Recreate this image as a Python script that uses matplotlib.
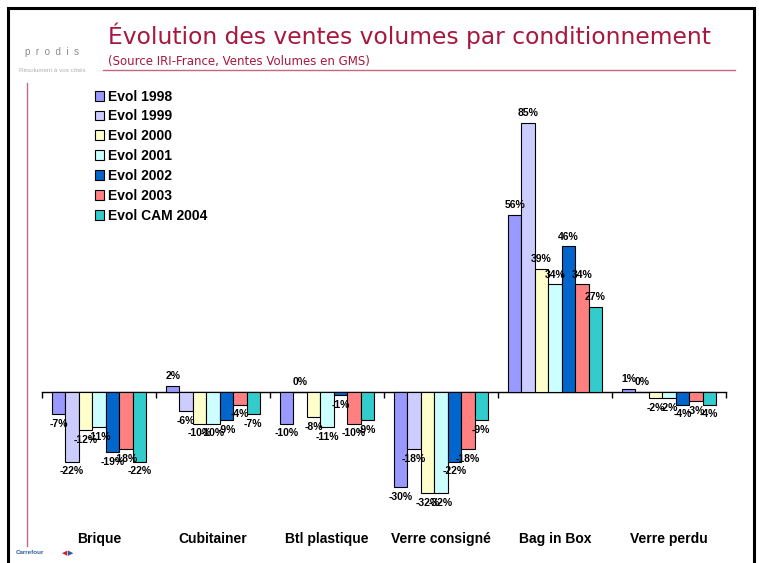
"""Evolution des ventes volumes par conditionnement (IRI-France, GMS)."""

import matplotlib

matplotlib.use("Agg")
import matplotlib.pyplot as plt
import numpy as np
from matplotlib.lines import Line2D

W, H, DPI = 759, 563, 100

categories = ["Brique", "Cubitainer", "Btl plastique", "Verre consigné",
              "Bag in Box", "Verre perdu"]
series_names = ["Evol 1998", "Evol 1999", "Evol 2000", "Evol 2001",
                "Evol 2002", "Evol 2003", "Evol CAM 2004"]
evol_1998 = [-7, 2, -10, -30, 56, 1]
evol_1999 = [-22, -6, 0, -18, 85, 0]
evol_2000 = [-12, -10, -8, -32, 39, -2]
evol_2001 = [-11, -10, -11, -32, 34, -2]
evol_2002 = [-19, -9, -1, -22, 46, -4]
evol_2003 = [-18, -4, -10, -18, 34, -3]
evol_cam_2004 = [-22, -7, -9, -9, 27, -4]
series = [evol_1998, evol_1999, evol_2000, evol_2001,
          evol_2002, evol_2003, evol_cam_2004]
colors = ["#9999FF", "#CCCCFF", "#FFFFCC", "#CCFFFF",
          "#0066CC", "#FF8080", "#33CCCC"]

TITLE_RED = "#A8173F"
LINE_RED = "#C4687F"

plt.rcParams["font.family"] = ["Liberation Sans", "DejaVu Sans"]

fig = plt.figure(figsize=(W / DPI, H / DPI), dpi=DPI)


def fx(px):
    return px / W


def fy(py):
    return 1 - py / H


# axes placed in pixel coordinates: x 42..726, y 100..500, zero at y=392
ax_left, ax_right, ax_top, ax_bot = 42, 726, 100, 500
zero_y, px_per_unit = 392, 3.165
ax = fig.add_axes([fx(ax_left), fy(ax_bot), fx(ax_right - ax_left),
                   (ax_bot - ax_top) / H])
ax.set_xlim(-0.5, len(categories) - 0.5)
ax.set_ylim(-(ax_bot - zero_y) / px_per_unit, (zero_y - ax_top) / px_per_unit)

x = np.arange(len(categories))
n = len(series)
bar_w = 0.825 / n
handles = []
for i, (vals, col, name) in enumerate(zip(series, colors, series_names)):
    pos = x - 0.825 / 2 + bar_w * (i + 0.5)
    bars = ax.bar(pos, vals, bar_w, color=col, edgecolor="black",
                  linewidth=0.8, label=name, zorder=2)
    handles.append(bars)
    for xp, v in zip(pos, vals):
        off = 7 if v >= 0 else -7
        ax.annotate(f"{v}%", (xp, v), xytext=(0, off), textcoords="offset points",
                    ha="center", va="center", fontsize=7.5, fontweight="bold",
                    zorder=3)

for s in ["top", "right", "left"]:
    ax.spines[s].set_visible(False)
ax.spines["bottom"].set_position(("data", 0))
ax.spines["bottom"].set_linewidth(1.0)
ax.spines["bottom"].set_zorder(1)
ax.set_yticks([])
ax.set_xticks(np.arange(len(categories) + 1) - 0.5)
ax.tick_params(axis="x", direction="out", length=4, width=1, labelbottom=False)
ax.patch.set_alpha(0)

for xi, name in zip(x, categories):
    fig.text(fx(ax_left + (xi + 0.5) * (ax_right - ax_left) / len(categories)),
             fy(539), name, ha="center", va="center", fontsize=10,
             fontweight="bold")

leg = fig.legend(handles=handles, loc="upper left",
                 bbox_to_anchor=(fx(89), fy(84)), frameon=False,
                 prop={"size": 10, "weight": "bold"}, handlelength=0.7,
                 handleheight=0.7, handletextpad=0.3, labelspacing=0.42,
                 borderaxespad=0)

# title block
fig.text(fx(108), fy(36), "Évolution des ventes volumes par conditionnement",
         ha="left", va="center", fontsize=16.8, color=TITLE_RED,
         family=["DejaVu Sans"])
fig.text(fx(108), fy(61), "(Source IRI-France, Ventes Volumes en GMS)",
         ha="left", va="center", fontsize=8.5, color=TITLE_RED,
         family=["DejaVu Sans"])

# logo texts
fig.text(fx(52), fy(52), "p  r  o  d  i  s", ha="center", va="center",
         fontsize=7, color="#8A8A8A")
fig.text(fx(52), fy(70), "Résolument à vos côtés", ha="center", va="center",
         fontsize=4.5, color="#B0B0B0")
fig.text(fx(16), fy(553), "Carrefour", ha="left", va="center", fontsize=4.5,
         color="#2D5BA8", fontweight="bold")
fig.text(fx(62), fy(553), "◀", ha="left", va="center", fontsize=5,
         color="#D02030", family=["DejaVu Sans"])
fig.text(fx(68), fy(553), "▶", ha="left", va="center", fontsize=5,
         color="#2D5BA8", family=["DejaVu Sans"])

# decorative lines
fig.add_artist(Line2D([fx(103), fx(735)], [fy(70), fy(70)], color=LINE_RED,
                      linewidth=1.0))
fig.add_artist(Line2D([fx(27), fx(27)], [fy(83), fy(546)], color=LINE_RED,
                      linewidth=1.0))
# slide frame
fig.add_artist(Line2D([fx(7.5), fx(7.5), fx(753.5), fx(753.5)],
                      [0, fy(7.5), fy(7.5), 0], color="black", linewidth=2.2,
                      solid_joinstyle="miter"))

fig.savefig("out.png", dpi=DPI)
